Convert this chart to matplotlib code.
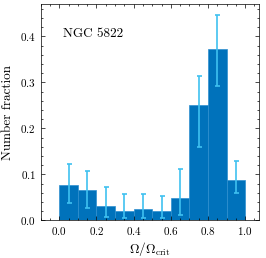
import matplotlib
matplotlib.use("Agg")
import matplotlib.pyplot as plt
import numpy as np
from matplotlib.ticker import AutoMinorLocator, MultipleLocator

plt.rcParams['font.family'] = 'serif'
plt.rcParams['font.serif'] = ['cmr10', 'DejaVu Serif']
plt.rcParams['mathtext.fontset'] = 'cm'
plt.rcParams['axes.formatter.use_mathtext'] = True
plt.rcParams['axes.unicode_minus'] = False

bin_left = [0.0, 0.1, 0.2, 0.3, 0.4, 0.5, 0.6, 0.7, 0.8, 0.9]
fraction = [0.076, 0.066, 0.031, 0.021, 0.024, 0.021, 0.049, 0.251, 0.372, 0.088]
err_low = [0.037, 0.027, 0.008, 0.005, 0.006, 0.005, 0.012, 0.159, 0.292, 0.060]
err_high = [0.123, 0.108, 0.072, 0.057, 0.057, 0.052, 0.112, 0.314, 0.447, 0.128]

fig = plt.figure(figsize=(2.66, 2.58), dpi=100)
ax = fig.add_axes([0.153, 0.146, 0.821, 0.838])

centers = np.array(bin_left) + 0.05
vals = np.array(fraction)
ax.bar(centers, vals, width=0.1, color='#0072BB', edgecolor='#2E8FD0', linewidth=0.5)
yerr = np.vstack([vals - np.array(err_low), np.array(err_high) - vals])
ax.errorbar(centers, vals, yerr=yerr, fmt='none', ecolor='#3FC1F0', elinewidth=1.2, capsize=1.8, capthick=1.2)

ax.set_xlim(-0.1, 1.075)
ax.set_ylim(0, 0.47)
ax.xaxis.set_major_locator(MultipleLocator(0.2))
ax.yaxis.set_major_locator(MultipleLocator(0.1))
ax.xaxis.set_minor_locator(AutoMinorLocator(4))
ax.yaxis.set_minor_locator(AutoMinorLocator(5))
ax.tick_params(which='both', direction='in', top=True, right=True, labelsize=8)
ax.tick_params(which='major', length=3, width=0.5)
ax.tick_params(which='minor', length=1.5, width=0.5)
for s in ax.spines.values():
    s.set_linewidth(0.5)

ax.set_xlabel(r'$\Omega/\Omega_{\rm crit}$', fontsize=9.5, labelpad=2)
ax.set_ylabel('Number fraction', fontsize=9.5, labelpad=4)
ax.text(0.1, 0.85, 'NGC 5822', transform=ax.transAxes, fontsize=9.5)

fig.savefig('out.png', dpi=100)
